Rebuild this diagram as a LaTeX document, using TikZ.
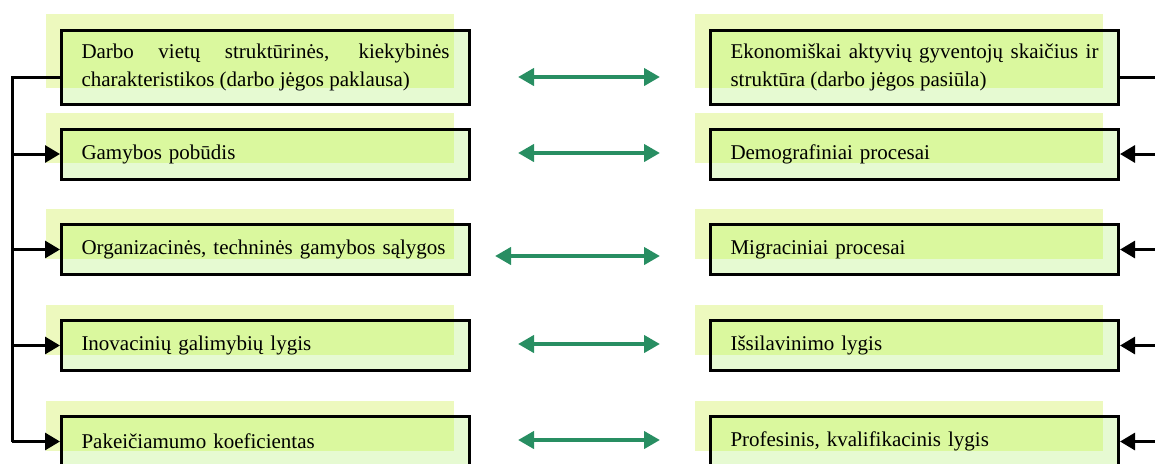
\documentclass[tikz,border=0pt]{standalone}
\usepackage{fontspec}
\setmainfont{Liberation Serif}
\usetikzlibrary{arrows.meta,shadows}
\definecolor{shadowc}{RGB}{237,249,190}
\definecolor{boxc}{RGB}{230,250,210}
\definecolor{ovlc}{RGB}{218,248,158}
\definecolor{linkc}{RGB}{40,142,98}

\begin{document}
\begin{tikzpicture}[x=0.5pt,y=-0.5pt,
    factor/.style={draw=black, line width=1.5pt, fill=boxc, anchor=west,
      text width=184pt, inner xsep=10pt, inner ysep=0pt, align=left,
      minimum height=25pt, font=\fontsize{10.5}{14}\selectfont,
      general shadow={fill=shadowc, shadow xshift=-8pt, shadow yshift=8pt},
      path picture={\fill[ovlc] (path picture bounding box.north west)
        rectangle ([xshift=-8pt,yshift=8pt]path picture bounding box.south east);}},
    feed/.style={line width=1.5pt, -{Triangle[length=7.5pt,width=8.5pt]}},
    link/.style={draw=linkc, line width=2pt,
      {Triangle[length=8pt,width=8.5pt]}-{Triangle[length=8pt,width=8.5pt]}}]
    \useasboundingbox (0,0) rectangle (1155,463);
    % demand side
    \node [factor, minimum height=37pt, align=justify] (l1) at (60,67)
      {Darbo vietų struktūrinės, kiekybinės\linebreak charakteristikos (darbo jėgos paklausa)};
    \node [factor] (l2) at (60,154) {Gamybos pobūdis};
    \node [factor] (l3) at (60,249.5) {Organizacinės, techninės gamybos sąlygos};
    \node [factor] (l4) at (60,345.5) {Inovacinių galimybių lygis};
    \node [factor] (l5) at (60,441.5) {Pakeičiamumo koeficientas};
    % supply side
    \node [factor, minimum height=37pt, align=justify] (r1) at (709,67)
      {Ekonomiškai aktyvių gyventojų skaičius ir\linebreak struktūra (darbo jėgos pasiūla)};
    \node [factor] (r2) at (709,154) {Demografiniai procesai};
    \node [factor] (r3) at (709,249.5) {Migraciniai procesai};
    \node [factor] (r4) at (709,345.5) {Išsilavinimo lygis};
    \node [factor] (r5) at (709,441.5) {Profesinis, kvalifikacinis lygis};
    \coordinate (lt) at (12,77);
    \coordinate (rt) at (1165,77);
    % left feeder
    \draw [line width=1.5pt] (l1.west |- lt) -- (lt) -- (lt |- l5);
    \draw [feed] (lt |- l2) -- (l2);
    \draw [feed] (lt |- l3) -- (l3);
    \draw [feed] (lt |- l4) -- (l4);
    \draw [feed] (lt |- l5) -- (l5);
    % right feeder
    \draw [line width=1.5pt] (r1.east |- rt) -- (rt) -- (rt |- r5);
    \draw [feed] (rt |- r2) -- (r2);
    \draw [feed] (rt |- r3) -- (r3);
    \draw [feed] (rt |- r4) -- (r4);
    \draw [feed] (rt |- r5) -- (r5);
    % links
    \draw [link, shorten <=23.5pt, shorten >=24.5pt] (l1.east |- lt) -- (r1.west |- lt);
    \draw [link, shorten <=23.5pt, shorten >=24.5pt] ([yshift=0.5pt]l2.east) -- ([yshift=0.5pt]r2.west);
    \draw [link, shorten <=12pt, shorten >=24.5pt] ([yshift=-3.25pt]l3.east) -- ([yshift=-3.25pt]r3.west);
    \draw [link, shorten <=23.5pt, shorten >=24.5pt] ([yshift=0.75pt]l4.east) -- ([yshift=0.75pt]r4.west);
    \draw [link, shorten <=23.5pt, shorten >=24.5pt] ([yshift=0.75pt]l5.east) -- ([yshift=0.75pt]r5.west);
\end{tikzpicture}
\end{document}
